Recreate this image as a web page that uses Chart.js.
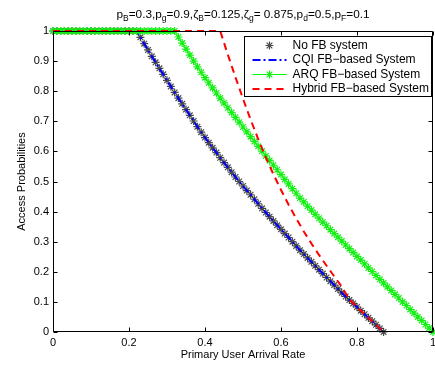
<!DOCTYPE html>
<html>
<head>
<meta charset="utf-8">
<script src="https://cdn.jsdelivr.net/npm/chart.js@4.4.1/dist/chart.umd.min.js"></script>
<style>
  body { margin: 0; background: #fff; }
  #wrap { position: relative; width: 435px; height: 368px; }
  #title {
    position: absolute; left: 0; width: 486px; top: 7px; text-align: center;
    font-family: "Liberation Sans", Arial, sans-serif; font-size: 11.8px; color: #000;
  }
  #title sub { font-size: 8.5px; vertical-align: -3px; }
</style>
</head>
<body>
<div id="wrap">
  <canvas id="myChart" width="435" height="368"></canvas>
  <div id="title">p<sub>B</sub>=0.3,p<sub>g</sub>=0.9,ζ<sub>B</sub>=0.125,ζ<sub>g</sub>= 0.875,p<sub>d</sub>=0.5,p<sub>F</sub>=0.1</div>
</div>
<script>
//x axis: primary user arrival rate, step 0.01
const arrivalRate = [
  0.00,0.01,0.02,0.03,0.04,0.05,0.06,0.07,0.08,0.09,
  0.10,0.11,0.12,0.13,0.14,0.15,0.16,0.17,0.18,0.19,
  0.20,0.21,0.22,0.23,0.24,0.25,0.26,0.27,0.28,0.29,
  0.30,0.31,0.32,0.33,0.34,0.35,0.36,0.37,0.38,0.39,
  0.40,0.41,0.42,0.43,0.44,0.45,0.46,0.47,0.48,0.49,
  0.50,0.51,0.52,0.53,0.54,0.55,0.56,0.57,0.58,0.59,
  0.60,0.61,0.62,0.63,0.64,0.65,0.66,0.67,0.68,0.69,
  0.70,0.71,0.72,0.73,0.74,0.75,0.76,0.77,0.78,0.79,
  0.80,0.81,0.82,0.83,0.84,0.85,0.86,0.87,0.88,0.89,
  0.90,0.91,0.92,0.93,0.94,0.95,0.96,0.97,0.98,0.99,
  1.00
];

//No FB system (stars)
const noFbValues = [
  1,1,1,1,1,1,1,1,1,1,
  1,1,1,1,1,1,1,1,1,1,
  1,1,1,0.979,0.958,0.937,0.916,0.896,0.876,0.856,
  0.836,0.816,0.796,0.777,0.758,0.739,0.720,0.701,0.682,0.664,
  0.646,0.629,0.612,0.596,0.579,0.563,0.547,0.531,0.515,0.500,
  0.485,0.470,0.456,0.441,0.426,0.411,0.397,0.383,0.369,0.355,
  0.341,0.327,0.314,0.300,0.286,0.272,0.259,0.246,0.233,0.220,
  0.207,0.194,0.181,0.169,0.156,0.143,0.130,0.118,0.106,0.095,
  0.083,0.071,0.059,0.047,0.036,0.024,0.012,0.000,null,null,
  null,null,null,null,null,null,null,null,null,null,
  null
];

//CQI FB-based sits right on top of the No FB curve
const cqiValues = noFbValues;

//ARQ FB-based System
const arqValues = [
  1,1,1,1,1,1,1,1,1,1,
  1,1,1,1,1,1,1,1,1,1,
  1,1,1,1,1,1,1,1,1,1,
  1,1,1,0.980,0.960,0.940,0.920,0.900,0.881,0.863,
  0.845,0.828,0.811,0.794,0.777,0.761,0.745,0.729,0.713,0.697,
  0.681,0.665,0.649,0.633,0.617,0.601,0.585,0.570,0.554,0.539,
  0.523,0.507,0.492,0.476,0.461,0.445,0.432,0.418,0.405,0.391,
  0.378,0.365,0.353,0.340,0.327,0.315,0.302,0.289,0.277,0.264,
  0.251,0.239,0.226,0.213,0.201,0.188,0.175,0.163,0.150,0.138,
  0.125,0.113,0.100,0.088,0.075,0.063,0.050,0.038,0.025,0.013,
  0.000
];

//Hybrid FB-based System (dashed, no markers)
const hybridRate = [0, 0.44, 0.46, 0.48, 0.50, 0.52, 0.54, 0.56, 0.58, 0.60, 0.62, 0.64, 0.66,
  0.68, 0.70, 0.72, 0.74, 0.76, 0.78, 0.80, 0.82, 0.84, 0.86, 0.87];
const hybridValues = [1, 1, 0.922, 0.847, 0.775, 0.706, 0.641, 0.580, 0.524, 0.472, 0.423, 0.377, 0.334,
  0.294, 0.256, 0.220, 0.185, 0.150, 0.108, 0.083, 0.059, 0.036, 0.012, 0.000];

const seriesNames = ['No FB system', 'CQI FB\u2212based System', 'ARQ FB\u2212based System', 'Hybrid FB\u2212based System'];
const xTickLabels = ['0', '0.2', '0.4', '0.6', '0.8', '1'];
const yTickLabels = ['0', '0.1', '0.2', '0.3', '0.4', '0.5', '0.6', '0.7', '0.8', '0.9', '1'];

function toPoints(xs, ys) {
  return xs.map((x, i) => ({x: x, y: ys[i]}));
}

Chart.defaults.font.family = '"Liberation Sans", Arial, sans-serif';
Chart.defaults.font.size = 11;
Chart.defaults.color = '#000';

const data = {
  datasets: [
    {
      label: seriesNames[0],
      data: toPoints(arrivalRate, noFbValues),
      showLine: false,
      pointStyle: 'star',
      pointRadius: 4,
      pointBorderWidth: 1.2,
      pointBorderColor: 'rgba(30,30,30,0.8)',
      borderColor: '#000',
      order: 4
    },
    {
      label: seriesNames[1],
      data: toPoints(arrivalRate, cqiValues),
      borderColor: 'rgb(0,0,255)',
      borderWidth: 2,
      borderDash: [8, 3, 2, 3],
      pointRadius: 0,
      order: 3
    },
    {
      label: seriesNames[2],
      data: toPoints(arrivalRate, arqValues),
      borderColor: 'rgb(0,255,0)',
      borderWidth: 1,
      pointStyle: 'star',
      pointRadius: 4,
      pointBorderWidth: 1.2,
      pointBorderColor: 'rgb(20,240,20)',
      order: 2
    },
    {
      label: seriesNames[3],
      data: toPoints(hybridRate, hybridValues),
      borderColor: 'rgb(255,0,0)',
      borderWidth: 2,
      borderDash: [7, 5],
      pointRadius: 0,
      order: 1
    }
  ]
};

//MATLAB style box with inward ticks
const framePlugin = {
  id: 'frame',
  afterDatasetsDraw(chart) {
    const ctx = chart.ctx;
    const a = chart.chartArea;
    const l = Math.round(a.left) + 0.5, r = Math.round(a.right) - 0.5;
    const t = Math.round(a.top) + 0.5, b = Math.round(a.bottom) - 0.5;
    ctx.save();
    ctx.strokeStyle = '#000';
    ctx.lineWidth = 1;
    ctx.beginPath();
    ctx.rect(l, t, r - l, b - t);
    chart.scales.x.ticks.forEach(tk => {
      const px = Math.round(chart.scales.x.getPixelForValue(tk.value)) + 0.5;
      ctx.moveTo(px, b); ctx.lineTo(px, b - 4);
      ctx.moveTo(px, t); ctx.lineTo(px, t + 4);
    });
    chart.scales.y.ticks.forEach(tk => {
      const py = Math.round(chart.scales.y.getPixelForValue(tk.value)) + 0.5;
      ctx.moveTo(l, py); ctx.lineTo(l + 4, py);
      ctx.moveTo(r, py); ctx.lineTo(r - 4, py);
    });
    ctx.stroke();
    ctx.restore();
  }
};

const legendPlugin = {
  id: 'boxLegend',
  afterDraw(chart) {
    const ctx = chart.ctx;
    const a = chart.chartArea;
    const bx = Math.round(a.right) - 188.5, by = 36.5, bw = 187, bh = 60;
    ctx.save();
    ctx.fillStyle = '#fff';
    ctx.fillRect(bx, by, bw, bh);
    ctx.strokeStyle = '#000';
    ctx.lineWidth = 1;
    ctx.setLineDash([]);
    ctx.strokeRect(bx, by, bw, bh);
    ctx.font = '12px "Liberation Sans", Arial, sans-serif';
    ctx.textBaseline = 'middle';
    chart.data.datasets.forEach((ds, i) => {
      const y = by + 9 + i * 14.5;
      const x0 = bx + 8, x1 = bx + 42;
      if (ds.showLine !== false) {
        ctx.strokeStyle = ds.borderColor;
        ctx.lineWidth = ds.borderWidth;
        ctx.setLineDash(ds.borderDash || []);
        ctx.beginPath();
        ctx.moveTo(x0, y); ctx.lineTo(x1, y);
        ctx.stroke();
        ctx.setLineDash([]);
      }
      if (ds.pointRadius > 0) {
        ctx.strokeStyle = ds.pointBorderColor;
        ctx.lineWidth = ds.pointBorderWidth;
        Chart.helpers.drawPoint(ctx, {pointStyle: 'star', radius: ds.pointRadius, borderWidth: ds.pointBorderWidth, rotation: 0}, (x0 + x1) / 2, y);
      }
      ctx.fillStyle = '#000';
      ctx.fillText(ds.label, bx + 48, y);
    });
    ctx.restore();
  }
};

const config = {
  type: 'line',
  data: data,
  options: {
    responsive: false,
    animation: false,
    layout: {autoPadding: false, padding: {top: 31, right: 2, left: 0, bottom: 0}},
    elements: {line: {tension: 0}},
    datasets: {line: {clip: false, spanGaps: false}},
    plugins: {
      legend: {display: false},
      tooltip: {enabled: false}
    },
    scales: {
      x: {
        type: 'linear',
        min: 0, max: 1,
        grid: {display: false, drawTicks: false},
        border: {display: false},
        ticks: {
          stepSize: 0.2, padding: 4, maxRotation: 0,
          callback: (v) => xTickLabels[Math.round(v / 0.2)]
        },
        title: {display: true, text: 'Primary User Arrival Rate', padding: {top: 2, bottom: 6}},
        afterFit: (s) => { s.height = 36; s.paddingLeft = 0; s.paddingRight = 0; }
      },
      y: {
        min: 0, max: 1,
        grid: {display: false, drawTicks: false},
        border: {display: false},
        ticks: {
          stepSize: 0.1, padding: 4,
          callback: (v) => yTickLabels[Math.round(v / 0.1)]
        },
        title: {display: true, text: 'Access Probabilities', padding: {top: 15, bottom: 4}},
        afterFit: (s) => { s.width = 53; s.paddingTop = 0; s.paddingBottom = 0; }
      }
    }
  },
  plugins: [framePlugin, legendPlugin]
};

const myChart = new Chart(document.getElementById('myChart'), config);
</script>
</body>
</html>
